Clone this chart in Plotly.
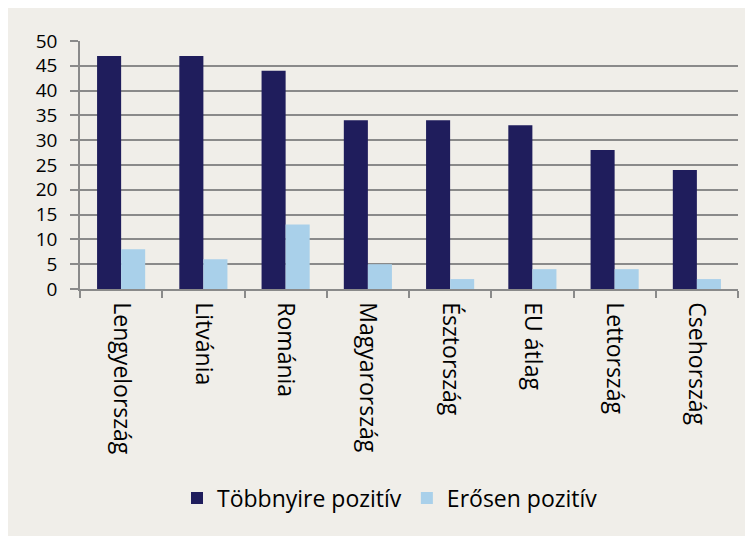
import plotly.graph_objects as go

# ── Data ─────────────────────────────────────────────────────────────────────
countries = ["Lengyelország", "Litvánia", "Románia", "Magyarország",
             "Észtország", "EU átlag", "Lettország", "Csehország"]
mostly_positive = [47, 47, 44, 34, 34, 33, 28, 24]
strongly_positive = [8, 6, 13, 5, 2, 4, 4, 2]
y_ticks = [0, 5, 10, 15, 20, 25, 30, 35, 40, 45, 50]

FONT = "Open Sans, Liberation Sans, sans-serif"
BG = "#f0eee9"
GRID = "#8a8a8a"

# figure sits 8px in from the page edge (body margin)
W, H = 737, 528
L, R, T, B = 72, 7, 33, 247
PW, PH = W - L - R, H - T - B


def px_x(px):
    return (px - L) / PW


def px_y(py):
    return (T + PH - py) / PH


fig = go.Figure()
fig.add_trace(go.Bar(
    x=countries, y=mostly_positive, name="Többnyire pozitív",
    marker=dict(color="#1f1d5c", line=dict(width=0)),
))
fig.add_trace(go.Bar(
    x=countries, y=strongly_positive, name="Erősen pozitív",
    marker=dict(color="#a9d0ea", line=dict(width=0)),
))

fig.update_layout(
    width=W, height=H,
    margin=dict(l=L, r=R, t=T, b=B),
    paper_bgcolor=BG, plot_bgcolor=BG,
    barmode="group", bargap=0.415, bargroupgap=0,
    font=dict(family=FONT, color="black"),
    showlegend=True,
    legend=dict(
        orientation="h", x=px_x(382), xanchor="center",
        y=px_y(490), yanchor="middle",
        font=dict(size=23, family=FONT), bgcolor="rgba(0,0,0,0)",
        itemwidth=30, traceorder="normal",
    ),
    xaxis=dict(
        tickangle=90, tickfont=dict(size=23, family=FONT),
        showline=True, linecolor=GRID, linewidth=1.5,
        ticks="outside", ticklen=7, tickcolor=GRID, tickwidth=1.5,
        tickson="boundaries", showgrid=False,
        ticklabelstandoff=7, automargin=False,
    ),
    yaxis=dict(
        range=[0, 50], tickvals=y_ticks, tickfont=dict(size=19, family=FONT),
        showgrid=True, gridcolor=GRID, gridwidth=1.5,
        showline=True, linecolor=GRID, linewidth=1.5,
        ticks="outside", ticklen=8, tickcolor=GRID, tickwidth=1.5,
        zeroline=False, ticklabelstandoff=9, automargin=False,
    ),
)

fig.write_html("out.html")
